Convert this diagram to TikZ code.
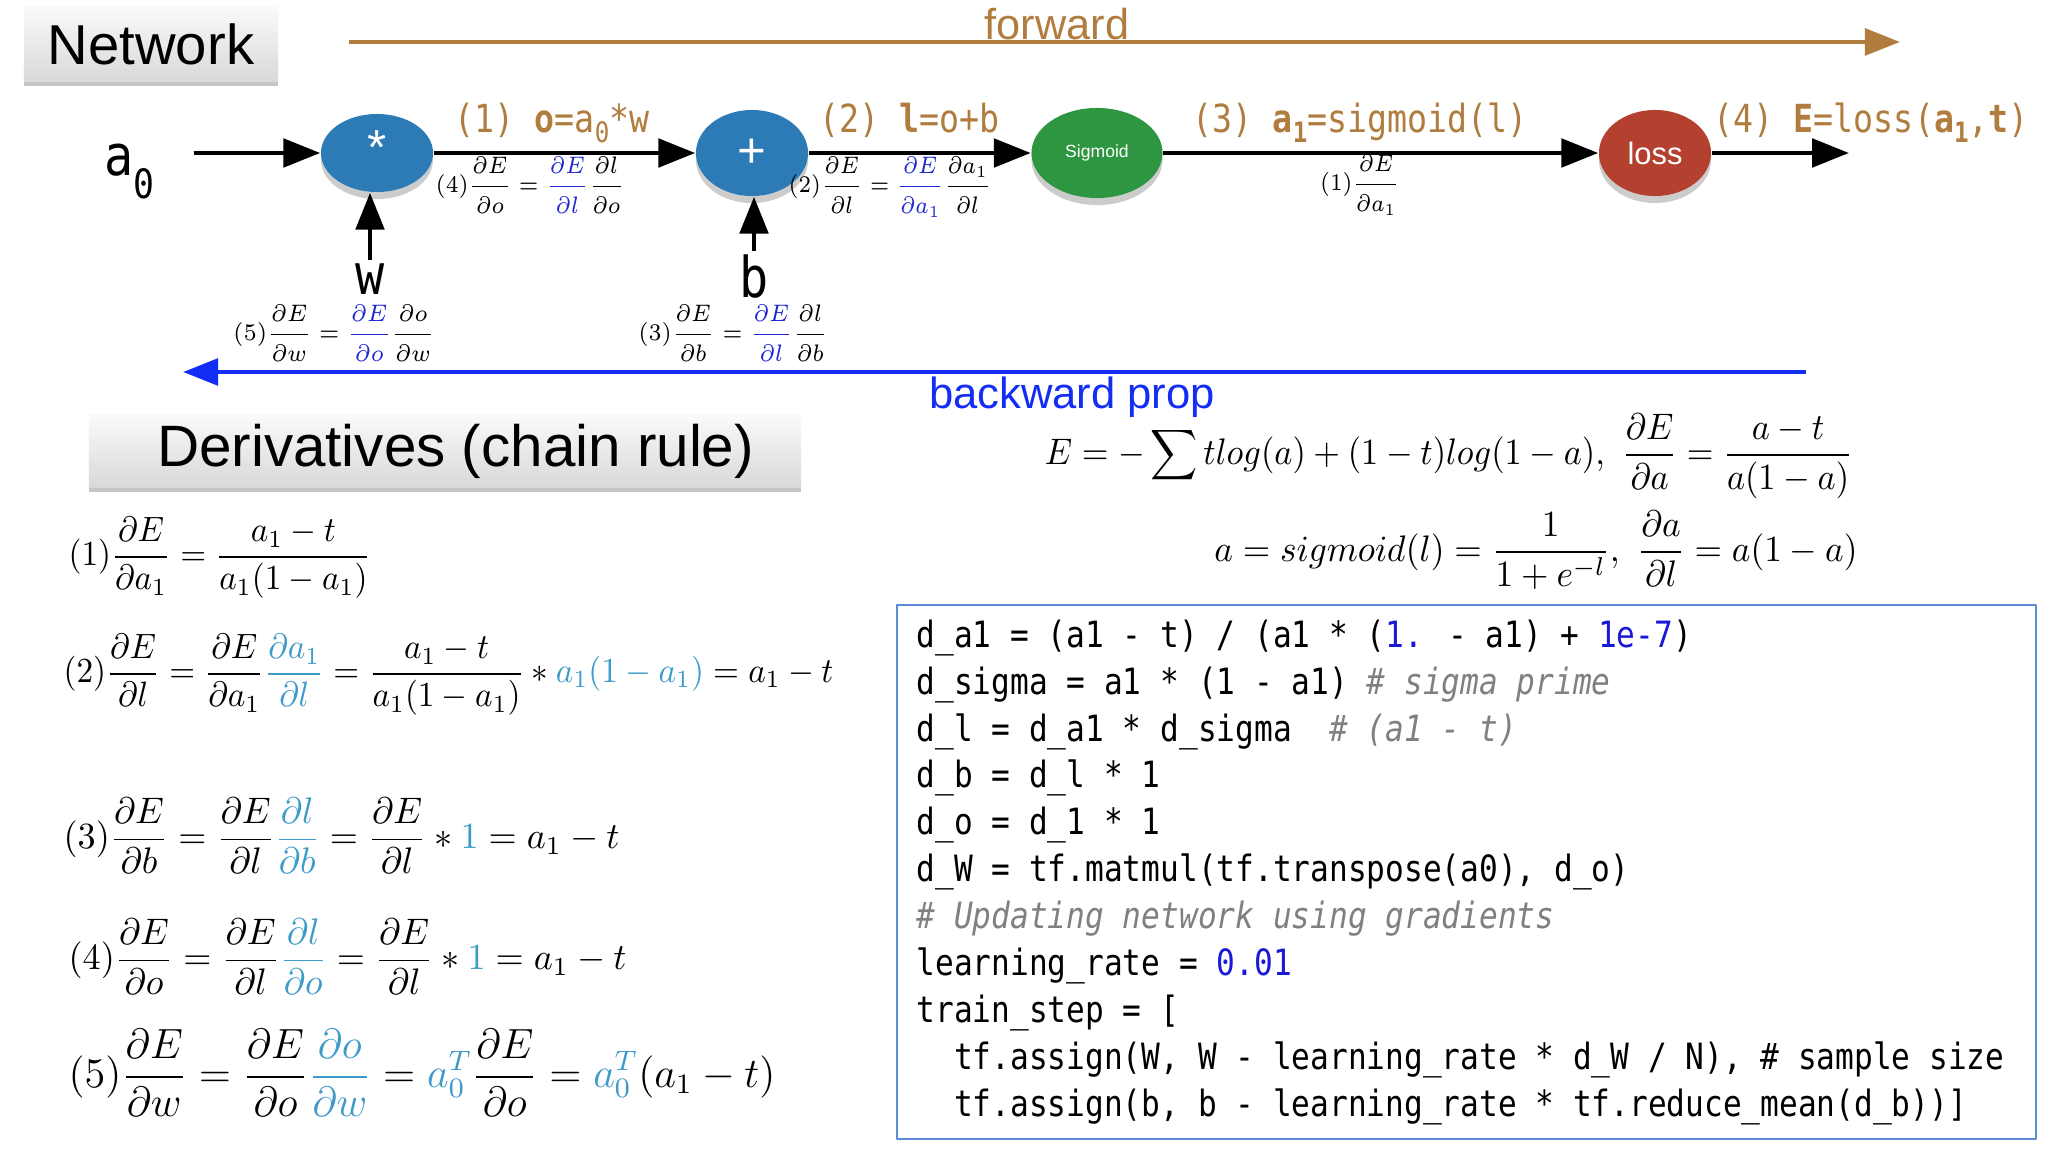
\RequirePackage{fix-cm}
\documentclass[tikz,border=0pt]{standalone}
\usepackage{fontspec}
\usepackage{graphicx}
\setsansfont{Liberation Sans}
\newfontfamily\codefont[FakeStretch=0.86]{DejaVu Sans Mono}
\usetikzlibrary{arrows.meta,shapes.geometric,shadows}

\definecolor{opblue}{RGB}{44,122,182}
\definecolor{opgreen}{RGB}{46,150,64}
\definecolor{opred}{RGB}{180,64,48}
\definecolor{fwdbrown}{RGB}{176,125,62}
\definecolor{backblue}{RGB}{20,45,245}
\definecolor{eqblue}{RGB}{30,40,210}
\definecolor{eqteal}{RGB}{60,155,200}
\definecolor{codeblue}{RGB}{25,25,215}
\definecolor{codegray}{RGB}{128,128,128}
\definecolor{boxblue}{RGB}{90,140,215}

\newcommand{\tq}[1]{\textcolor{eqteal}{#1}}
\newcommand{\pd}[2]{\frac{\partial #1}{\partial #2}}
\newcommand{\lsub}[1]{\raisebox{-0.45ex}{\fontsize{8}{8}\selectfont #1}}
\newcommand{\sqz}[2]{\scalebox{#1}[1]{$\displaystyle #2$}}

\begin{document}
\begin{tikzpicture}[x=0.01cm, y=-0.01cm, line join=round,
  op/.style={ellipse, inner sep=0pt, text=white, font=\sffamily,
    drop shadow={shadow xshift=0pt, shadow yshift=-2pt, opacity=0.4}},
  flow/.style={line width=1.4pt, -{Triangle[length=10.5pt, width=8pt]}},
  header/.style={top color=gray!4, bottom color=gray!30, inner sep=0pt,
    drop shadow={shadow xshift=0pt, shadow yshift=-1.5pt, opacity=0.45}},
  lbl/.style={text=fwdbrown, anchor=base west, inner sep=0pt, font=\codefont\fontsize{11}{12}\selectfont},
  var/.style={anchor=base, inner sep=1pt, font=\codefont\fontsize{16}{16}\selectfont},
  dlbl/.style={inner sep=0pt, font=\fontsize{6.8}{8}\selectfont},
  deq/.style={anchor=west, inner sep=0pt},
  code/.style={anchor=north west, inner sep=0pt, align=left, font=\codefont\fontsize{10.3}{13.34}\selectfont}]
\fill[white] (0,0) rectangle (2048,1152);
\useasboundingbox (0,0) rectangle (2048,1152);

% titles
\node[header, minimum width=2.54cm, minimum height=0.74cm, font=\sffamily\fontsize{16}{16}\selectfont] (nethead) at (151,44) {Network};
\node[header, minimum width=7.12cm, minimum height=0.72cm, font=\sffamily\fontsize{16.6}{17}\selectfont] (derhead) at (445,451) {\hspace{6pt}Derivatives (chain rule)};

% forward / backward
\coordinate (fwdL) at (349,42); \coordinate (fwdR) at (1900,42);
\draw[fwdbrown, line width=1.4pt, -{Triangle[length=10pt, width=7.5pt]}] (fwdL) -- (fwdR);
\node[text=fwdbrown, anchor=base, font=\sffamily\fontsize{12.3}{13}\selectfont] (fwdtxt) at (1057,40) {forward};
\coordinate (backR) at (1806,372); \coordinate (backL) at (183,372);
\draw[backblue, line width=1.4pt, -{Triangle[length=10pt, width=7.5pt]}] (backR) -- (backL);
\node[text=backblue, anchor=base, font=\sffamily\fontsize{12.4}{13}\selectfont] (backtxt) at (1072,409) {backward prop};

% network
\node[op, fill=opblue, minimum width=1.12cm, minimum height=0.78cm, font=\sffamily\fontsize{14}{14}\selectfont] (mul) at (377,153) {\raisebox{3pt}{*}};
\node[op, fill=opblue, minimum width=1.12cm, minimum height=0.86cm, font=\sffamily\fontsize{14}{14}\selectfont] (add) at (752,153) {+};
\node[op, fill=opgreen, minimum width=1.31cm, minimum height=0.9cm, font=\sffamily\fontsize{5}{5}\selectfont] (sig) at (1097,153) {Sigmoid};
\node[op, fill=opred, minimum width=1.12cm, minimum height=0.86cm, font=\sffamily\fontsize{8.8}{9}\selectfont] (loss) at (1655,153) {loss};
\node[var, anchor=base west] (a0) at (100,176) {a\raisebox{-6.5pt}{\fontsize{11.5}{12}\selectfont 0}};
\node[var] (w) at (370,295) {w};
\node[var] (b) at (754,298) {b};
\coordinate (out) at (1849,153);

\draw[flow, shorten <=10pt] (a0.east |- mul) -- (mul);
\draw[flow] (mul) -- (add);
\draw[flow] (add) -- (sig);
\draw[flow] (sig) -- (loss);
\draw[flow] (loss) -- (out);
\draw[flow] (w.north) -- (w.north |- mul.south);
\draw[flow] (b.north) -- (b.north |- add.south);

\node[lbl] (l1) at (454,133) {(1) \textbf{o}=a\lsub{0}*w};
\node[lbl] (l2) at (819,133) {(2) \textbf{l}=o+b};
\node[lbl] (l3) at (1192,133) {(3) \textbf{a\lsub{1}}=sigmoid(l)};
\node[lbl] (l4) at (1713,133) {(4) \textbf{E}=loss(\textbf{a\lsub{1}},\textbf{t})};

\node[dlbl] (d4) at (530,185) {\sqz{0.88}{(4)\pd{E}{o} = \textcolor{eqblue}{\pd{E}{l}}\pd{l}{o}}};
\node[dlbl] (d2) at (890,187) {\sqz{0.86}{(2)\pd{E}{l} = \textcolor{eqblue}{\pd{E}{a_1}}\pd{a_1}{l}}};
\node[dlbl] (d1) at (1360,185) {\sqz{0.86}{(1)\pd{E}{a_1}}};
\node[dlbl] (d5) at (334,333) {\sqz{0.91}{(5)\pd{E}{w} = \textcolor{eqblue}{\pd{E}{o}}\pd{o}{w}}};
\node[dlbl] (d3) at (733,333) {\sqz{0.89}{(3)\pd{E}{b} = \textcolor{eqblue}{\pd{E}{l}}\pd{l}{b}}};

% loss and sigmoid
\node[inner sep=0pt, font=\fontsize{10.5}{12}\selectfont] (lossdef) at (1449,456) {\sqz{0.93}{E = -\sum tlog(a) + (1-t)log(1-a),\ \pd{E}{a} = \frac{a-t}{a(1-a)}}};
\node[inner sep=0pt, font=\fontsize{10.5}{12}\selectfont] (sigdef) at (1536,550) {\sqz{0.957}{a = sigmoid(l) = \frac{1}{1+e^{-l}},\ \pd{a}{l} = a(1-a)}};

% chain rule
\node[deq, font=\fontsize{10}{12}\selectfont] (e1) at (68,558) {\sqz{0.945}{(1)\pd{E}{a_1} = \frac{a_1-t}{a_1(1-a_1)}}};
\node[deq, font=\fontsize{10}{12}\selectfont] (e2) at (63,675) {\sqz{0.945}{(2)\pd{E}{l} = \pd{E}{a_1}\tq{\pd{a_1}{l}} = \frac{a_1-t}{a_1(1-a_1)} * \tq{a_1(1-a_1)} = a_1-t}};
\node[deq, font=\fontsize{10.5}{12}\selectfont] (e3) at (63,836) {\sqz{0.98}{(3)\pd{E}{b} = \pd{E}{l}\tq{\pd{l}{b}} = \pd{E}{l} * \tq{1} = a_1-t}};
\node[deq, font=\fontsize{10.5}{12}\selectfont] (e4) at (68,957) {\sqz{0.98}{(4)\pd{E}{o} = \pd{E}{l}\tq{\pd{l}{o}} = \pd{E}{l} * \tq{1} = a_1-t}};
\node[deq, font=\fontsize{12}{14}\selectfont] (e5) at (68,1073) {\sqz{1}{(5)\pd{E}{w} = \pd{E}{o}\tq{\pd{o}{w}} = \tq{a_0^T}\pd{E}{o} = \tq{a_0^T}(a_1-t)}};

% code
\draw[boxblue, line width=0.6pt] (897,605) rectangle (2036,1139);
\node[code] (codetxt) at (916,619) {d\_a1 = (a1 - t) / (a1 * (\textcolor{codeblue}{1.} - a1) + \textcolor{codeblue}{1e-7})\\
d\_sigma = a1 * (1 - a1) {\color{codegray}\itshape\# sigma prime}\\
d\_l = d\_a1 * d\_sigma\ \ {\color{codegray}\itshape\# (a1 - t)}\\
d\_b = d\_l * 1\\
d\_o = d\_1 * 1\\
d\_W = tf.matmul(tf.transpose(a0), d\_o)\\
{\color{codegray}\itshape\# Updating network using gradients}\\
learning\_rate = \textcolor{codeblue}{0.01}\\
train\_step = [\\
\phantom{xx}tf.assign(W, W - learning\_rate * d\_W / N), \# sample size\\
\phantom{xx}tf.assign(b, b - learning\_rate * tf.reduce\_mean(d\_b))]};
\end{tikzpicture}
\end{document}
